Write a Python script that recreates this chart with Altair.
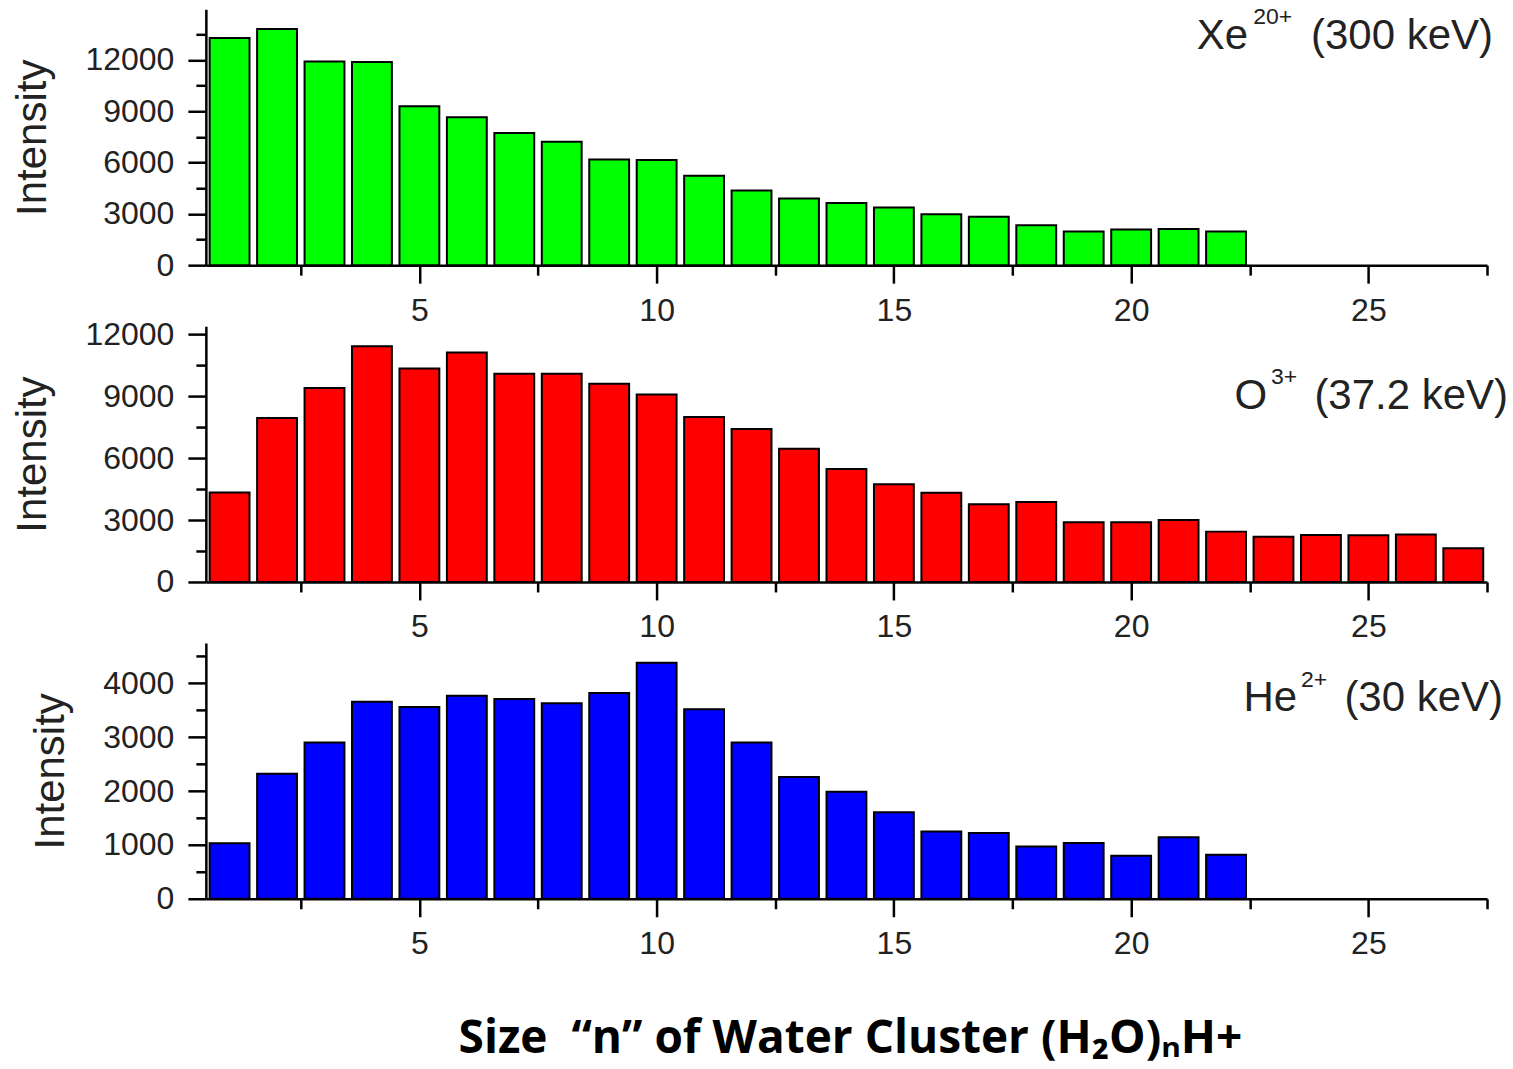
import altair as alt
import pandas as pd

# Cluster size n for each projectile
n_xe = list(range(1, 23))
n_o = list(range(1, 28))
n_he = list(range(1, 23))

# Measured intensities of (H2O)nH+ clusters
xe_intensity = [13280, 13800, 11900, 11880, 9280, 8640, 7720, 7210, 6180, 6140,
                5230, 4370, 3900, 3630, 3370, 2980, 2830, 2340, 1970, 2090,
                2110, 1970]
o_intensity = [4340, 7950, 9400, 11420, 10350, 11120, 10090, 10090, 9610, 9090,
               8000, 7420, 6460, 5480, 4740, 4320, 3770, 3870, 2890, 2890,
               3000, 2440, 2190, 2280, 2260, 2300, 1640]
he_intensity = [1030, 2320, 2900, 3660, 3560, 3770, 3710, 3630, 3820, 4380,
                3520, 2900, 2260, 1985, 1605, 1250, 1220, 970, 1035, 800,
                1140, 815]

x_ticks = [2.5, 5, 7.5, 10, 12.5, 15, 17.5, 20, 22.5, 25, 27.5]
x_title = "Size\u00a0 \u201cn\u201d of Water Cluster (H\u2082O)\u2099H+"

W = 1282
H = 256
HALF = 0.42
FONT = "Liberation Sans"
INK = "#222222"


def txt(s, size, xr, yb, align="right", font=FONT, weight="normal", color=INK):
    return (
        alt.Chart(pd.DataFrame({"t": [s]}))
        .mark_text(align=align, baseline="alphabetic", font=font, fontSize=size,
                   fontWeight=weight, color=color)
        .encode(text="t:N", x=alt.value(xr), y=alt.value(yb))
    )


def panel(n, vals, color, y_max, y_step, y_major, head, sup, tail, lab, extra=()):
    df = pd.DataFrame({"n": n, "intensity": vals})
    y_vals = [i * y_step for i in range(int(y_max // y_step) + 1) if i * y_step < y_max]
    bars = (
        alt.Chart(df)
        .transform_calculate(lo=f"datum.n - {HALF}", hi=f"datum.n + {HALF}")
        .mark_bar(color=color, stroke="black", strokeWidth=2)
        .encode(
            x=alt.X(
                "lo:Q",
                title=None,
                scale=alt.Scale(domain=[0.5, 27.5], nice=False, zero=False),
                axis=alt.Axis(
                    values=x_ticks,
                    format="d",
                    labelExpr="datum.value % 5 === 0 ? datum.label : ''",
                    tickSize={"condition": {"test": "datum.value % 5 === 0", "value": 18}, "value": 10},
                    labelPadding=12,
                    labelFlush=False,
                    labelOverlap=False,
                ),
            ),
            x2="hi:Q",
            y=alt.Y(
                "intensity:Q",
                title="Intensity",
                scale=alt.Scale(domain=[0, y_max], nice=False),
                axis=alt.Axis(
                    values=y_vals,
                    format="d",
                    labelExpr=f"datum.value % {y_major} === 0 ? datum.label : ''",
                    tickSize={"condition": {"test": f"datum.value % {y_major} === 0", "value": 18}, "value": 10},
                    labelPadding=14,
                    titlePadding=30,
                    labelOverlap=False,
                ),
            ),
            y2=alt.datum(0),
        )
    )

    (tail_dx, base), (sup_dx, sup_base), head_dx = lab
    return alt.layer(
        bars,
        txt(head, 42, W + head_dx, base),
        txt(sup, 23, W + sup_dx, sup_base),
        txt(tail, 42, W + tail_dx, base),
        *extra,
    ).properties(width=W, height=H)


top = panel(n_xe, xe_intensity, "#00FF00", 14950, 1500, 3000,
            "Xe", "20+", " (300 keV)", ((6, 40), (-195, 15), -239))
mid = panel(n_o, o_intensity, "#FF0000", 12400, 1500, 3000,
            "O", "3+", " (37.2 keV)", ((21, 83), (-190, 58), -220))
# shared x-axis caption, drawn under the lowest panel
caption = txt(x_title, 46, W / 2 + 4, H + 154, align="center",
              font="Open Sans", weight="bold", color="black")
bot = panel(n_he, he_intensity, "#0000FF", 4750, 500, 1000,
            "He", "2+", " (30 keV)", ((16, 68), (-160, 44), -190), extra=(caption,))

chart = (
    alt.vconcat(top, mid, bot, spacing=61, bounds="flush")
    .properties(padding={"top": 6, "left": 12, "right": 5, "bottom": 0})
    .configure_view(stroke=None)
    .configure_axis(
        grid=False,
        domainColor="black",
        domainWidth=2.5,
        tickColor="black",
        tickWidth=2.5,
        labelFont=FONT,
        labelFontSize=32,
        labelColor=INK,
        titleFont=FONT,
        titleFontSize=42,
        titleFontWeight="normal",
        titleColor=INK,
    )
)

chart.save("out.html", embed_options={"renderer": "svg", "actions": False})
